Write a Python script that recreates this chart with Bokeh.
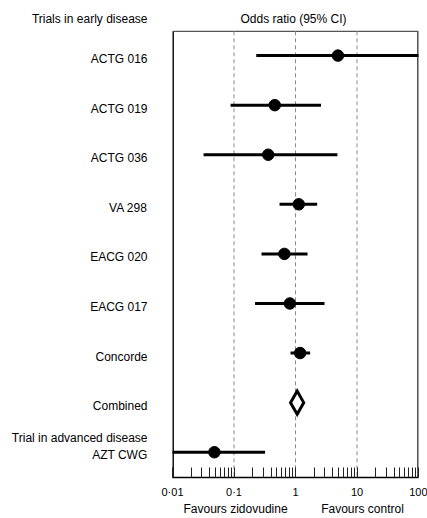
from bokeh.plotting import figure
from bokeh.models import Range1d, FixedTicker, Label, LogAxis
from bokeh.embed import file_html
from bokeh.resources import INLINE

# ---- data ----
trials = ["ACTG 016", "ACTG 019", "ACTG 036", "VA 298", "EACG 020", "EACG 017", "Concorde"]
or_est = [4.9, 0.46, 0.36, 1.13, 0.66, 0.81, 1.19]
ci_lo = [0.23, 0.088, 0.032, 0.55, 0.28, 0.22, 0.83]
ci_hi = [110.0, 2.6, 4.8, 2.25, 1.57, 2.96, 1.73]

combined_label = "Combined"
combined_est = 1.065
combined_lo = 0.83
combined_hi = 1.36

adv_header = "Trial in advanced disease"
adv_label = "AZT CWG"
adv_est = 0.048
adv_lo = 0.005
adv_hi = 0.32

early_header = "Trials in early disease"
x_title = "Odds ratio (95% CI)"
favours = ["Favours zidovudine", "Favours control"]
favours_at = [0.106, 12.3]

tick_values = [0.01, 0.1, 1, 10, 100]
tick_labels = ["0·01", "0·1", "1", "10", "100"]
ref_lines = [0.1, 1, 10]

FONT = "Liberation Sans"
X_MIN, X_MAX = 0.01, 100
BOX_TOP, BOX_BOTTOM = 0.51, 9.51

p = figure(width=427, height=518, x_axis_type="log",
           x_range=Range1d(X_MIN, X_MAX), y_range=Range1d(BOX_BOTTOM, 0.01),
           output_backend="svg", toolbar_location=None, title=None,
           min_border_left=172, min_border_right=9,
           min_border_top=6, min_border_bottom=37)

p.background_fill_color = "white"
p.border_fill_color = "white"
p.outline_line_color = None
p.xgrid.visible = False
p.ygrid.visible = False

# ---- bottom axis: ticks + numbers ----
ax = p.xaxis[0]
ax.ticker = FixedTicker(ticks=tick_values,
                        minor_ticks=[m * d for d in [0.01, 0.1, 1, 10] for m in range(2, 10)])
ax.major_label_overrides = {v: l for v, l in zip(tick_values, tick_labels)}
ax.major_tick_in = 10
ax.major_tick_out = 0
ax.minor_tick_in = 10
ax.minor_tick_out = 0
ax.major_tick_line_color = "#222222"
ax.minor_tick_line_color = "#222222"
ax.axis_line_color = "black"
ax.axis_line_width = 1.5
ax.major_label_standoff = 8
ax.major_label_text_font = FONT
ax.major_label_text_font_size = "11px"
ax.major_label_text_color = "black"

# ---- second bottom axis: "Favours ..." ----
fav_ax = LogAxis(ticker=FixedTicker(ticks=favours_at, minor_ticks=[]),
                 major_label_overrides={v: t for v, t in zip(favours_at, favours)},
                 axis_line_color=None, major_tick_line_color=None,
                 minor_tick_line_color=None, major_tick_in=0, major_tick_out=0,
                 major_label_standoff=1, major_label_text_font=FONT,
                 major_label_text_font_size="12px", major_label_text_color="black")
p.add_layout(fav_ax, "below")

# ---- left axis: row labels ----
rows = list(range(1, len(trials) + 1))
combined_row = len(trials) + 1
adv_row = len(trials) + 2

label_pos = [round(r + 0.07, 2) for r in rows + [combined_row]]
label_txt = trials + [combined_label]
label_pos += [0.27, round(adv_row - 0.29, 2), round(adv_row + 0.05, 2)]
label_txt += [early_header, adv_header, adv_label]

yax = p.yaxis[0]
yax.ticker = FixedTicker(ticks=label_pos, minor_ticks=[])
yax.major_label_overrides = {v: t for v, t in zip(label_pos, label_txt)}
yax.axis_line_color = None
yax.major_tick_line_color = None
yax.minor_tick_line_color = None
yax.major_tick_in = 0
yax.major_tick_out = 0
yax.major_label_standoff = 25
yax.major_label_text_font = FONT
yax.major_label_text_font_size = "12px"
yax.major_label_text_color = "black"

# ---- box and reference lines ----
p.segment(x0=[X_MIN, X_MAX], x1=[X_MIN, X_MAX], y0=[BOX_TOP] * 2, y1=[BOX_BOTTOM] * 2,
          line_color=["black", "#444444"], line_width=2.8)
p.segment(x0=[X_MIN], x1=[X_MAX], y0=[BOX_TOP], y1=[BOX_TOP],
          line_color="#555555", line_width=1.2)
p.segment(x0=ref_lines, x1=ref_lines, y0=[BOX_TOP] * len(ref_lines),
          y1=[BOX_BOTTOM] * len(ref_lines), line_color="#8a8a8a",
          line_dash="4 3", line_width=1)

# ---- error bars and estimates ----
p.segment(x0=ci_lo, x1=ci_hi, y0=rows, y1=rows, line_color="black", line_width=3)
p.scatter(x=or_est, y=rows, size=11.5, color="black")

p.segment(x0=[adv_lo], x1=[adv_hi], y0=[adv_row], y1=[adv_row], line_color="black", line_width=3)
p.scatter(x=[adv_est], y=[adv_row], size=11.5, color="black")

# combined diamond
h = 0.235
p.patch(x=[combined_lo, combined_est, combined_hi, combined_est],
        y=[combined_row, combined_row - h, combined_row, combined_row + h],
        fill_color="white", line_color="black", line_width=3, line_join="miter")

# header over the box
p.add_layout(Label(x=0.928, y=0.27, text=x_title, text_align="center",
                   text_baseline="middle", text_font=FONT,
                   text_font_size="12px", text_color="black"))

open("out.html", "w").write(file_html(p, INLINE))
